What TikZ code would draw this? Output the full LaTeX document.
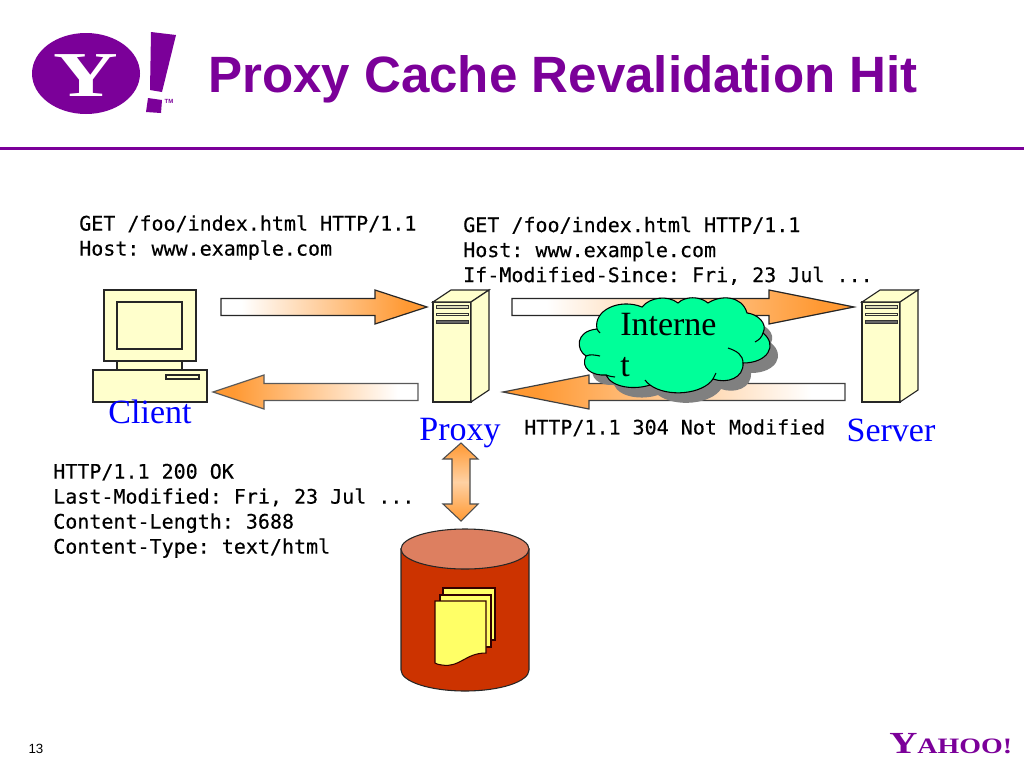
\documentclass[tikz,border=0pt]{standalone}
\usepackage{fontspec}
\setmainfont{Liberation Serif}
\setsansfont{Liberation Sans}
\setmonofont[FakeBold=0.35]{DejaVu Sans Mono}
\usetikzlibrary{arrows.meta,calc}
\definecolor{yahoopurple}{HTML}{7B0099}
\definecolor{machinefill}{HTML}{FFFFCC}
\definecolor{arroworange}{HTML}{FF9933}
\definecolor{cloudgreen}{HTML}{00FF99}
\definecolor{drumred}{HTML}{CC3300}
\definecolor{drumtop}{HTML}{DD7F60}
\definecolor{sheetyellow}{HTML}{FFFF66}
\pgfdeclarehorizontalshading{fadeeast}{100bp}{color(0bp)=(white);color(30bp)=(white);color(70bp)=(arroworange);color(100bp)=(arroworange)}
\pgfdeclarehorizontalshading{fadewest}{100bp}{color(0bp)=(arroworange);color(30bp)=(arroworange);color(70bp)=(white);color(100bp)=(white)}
\tikzset {
  machine/.style={draw=black!85,fill=machinefill,line width=.85pt},
  sheet/.style={draw=black!80!red,fill=sheetyellow,line width=.8pt},
  mono/.style={font=\fontsize{15}{18.75}\selectfont\ttfamily,align=left,anchor=north west,inner sep=0pt},
  hostname/.style={font=\fontsize{25.5}{28}\selectfont,text=blue,inner sep=0pt,anchor=base},
  servertower/.pic={
    \draw[machine] (0,0) rectangle (38,100);
    \draw[machine] (0,0) -- (18,-12) -- (56,-12) -- (38,0) -- cycle;
    \draw[machine] (38,0) -- (56,-12) -- (56,88) -- (38,100) -- cycle;
    \draw[draw=black!80,fill=machinefill!70!gray,line width=.5pt] (3,3) rectangle (35,6);
    \draw[draw=black!80,fill=machinefill,line width=.5pt] (3,11) rectangle (35,13.5);
    \draw[draw=black!80,fill=black!60,line width=.5pt] (3,18) rectangle (35,21);
  },
}
\newcommand{\blockarrow}[4]{
  \coordinate (hb) at ($(#3)+(#4,0)$);
  \draw[shade,line width=.9pt,#1] ($(#2)+(0,-8.5)$) -- ($(hb)+(0,-8.5)$)
    -- ($(hb)+(0,-17)$) -- (#3) -- ($(hb)+(0,17)$) -- ($(hb)+(0,8.5)$)
    -- ($(#2)+(0,8.5)$) -- cycle;
}
\newcommand{\cloudoutline}{
  (597,329) .. controls (593,310) and (620,298) .. (642,307)
  .. controls (650,297) and (668,295) .. (678,303)
  .. controls (685,296) and (700,296) .. (708,303)
  .. controls (720,295) and (742,295) .. (747,313)
  .. controls (757,314) and (768,323) .. (763,333)
  .. controls (778,345) and (768,363) .. (743,363)
  .. controls (744,378) and (727,384) .. (713,379)
  .. controls (703,394) and (668,398) .. (650,385)
  .. controls (635,390) and (612,388) .. (606,375)
  .. controls (592,376) and (580,368) .. (586,356)
  .. controls (576,350) and (575,331) .. (597,329) -- cycle
}
\begin{document}
\begin{tikzpicture}[x=.75pt,y=-.75pt]
  \useasboundingbox (0,0) rectangle (1024,768);

  \fill[yahoopurple] (86,73.5) ellipse[x radius=54,y radius=40.5];
  \node (logoY) at (86,76) [text=white,inner sep=0pt,xscale=1.4,font=\fontsize{48}{50}\selectfont\bfseries]{Y};
  \fill[yahoopurple] (151,32) -- (176,35) -- (162,92) -- (150,90) -- cycle;
  \fill[yahoopurple] (148,98) -- (162,100) -- (161,113) -- (146,112) -- cycle;
  \node (logoTM) at (169,101) [text=yahoopurple,inner sep=0pt,font=\fontsize{4.5}{5}\selectfont\sffamily\bfseries]{TM};
  \node (title) at (208,92) [anchor=base west,inner sep=0pt,text=yahoopurple,font=\fontsize{38.3}{42}\selectfont\sffamily\bfseries]{Proxy Cache Revalidation Hit};
  \draw[yahoopurple,line width=2.25pt] (0,148) -- (1024,148);

  \node (reqClient) at (79,215) [mono]{GET /foo/index.html HTTP/1.1\\Host: www.example.com};
  \node (reqProxy) at (463,216.5) [mono]{GET /foo/index.html HTTP/1.1\\Host: www.example.com\\If-Modified-Since: Fri, 23 Jul ...};
  \node (respClient) at (53,463.5) [mono]{HTTP/1.1 200 OK\\Last-Modified: Fri, 23 Jul ...\\Content-Length: 3688\\Content-Type: text/html};
  \node (respServer) at (524,419) [mono]{HTTP/1.1 304 Not Modified};

  \draw[machine] (104,290) rectangle (196,361);
  \draw[machine] (117,302) rectangle (182,349);
  \draw[machine] (117,361) rectangle (182,370);
  \draw[machine] (93,370) rectangle (207,402);
  \draw[machine] (166,375) rectangle (199,379);
  \node (client) at (150,423) [hostname]{Client};

  \pic at (433,302) {servertower};
  \node (proxy) at (460,440) [hostname]{Proxy};
  \pic at (862,302) {servertower};
  \node (server) at (891,441) [hostname]{Server};

  \coordinate (clientOut) at (221,307);
  \coordinate (proxyIn) at (427,307);
  \coordinate (proxyOut) at (418,392);
  \coordinate (clientIn) at (213,392);
  \coordinate (proxyUp) at (512,307);
  \coordinate (serverIn) at (854,307);
  \coordinate (serverOut) at (845,392);
  \coordinate (proxyBack) at (503,392);

  \blockarrow{shading=fadeeast,draw=black!85}{clientOut}{proxyIn}{-52}
  \blockarrow{shading=fadeeast,draw=black!85}{proxyUp}{serverIn}{-85}
  \blockarrow{shading=fadewest,draw=black!65}{proxyOut}{clientIn}{51}
  \blockarrow{shading=fadewest,draw=black!75}{serverOut}{proxyBack}{86}

  \fill[black!50,shift={(8,10)}] \cloudoutline;
  \draw[draw=black,fill=cloudgreen,line width=.8pt] \cloudoutline;
  \draw[line width=.8pt] (586,356) .. controls (590,354) and (595,355) .. (600,356);
  \draw[line width=.8pt] (597,329) .. controls (598,331) and (599,332) .. (600,333);
  \draw[line width=.8pt] (743,363) .. controls (743,355) and (737,351) .. (728,348);
  \draw[line width=.8pt] (763,333) .. controls (762,337) and (759,340) .. (755,342);
  \draw[line width=.8pt] (713,379) .. controls (714,377) and (715,375) .. (716,373);
  \draw[line width=.8pt] (650,385) .. controls (648,383) and (646,382) .. (645,380);
  \draw[line width=.8pt] (606,375) .. controls (609,376) and (612,377) .. (615,377);
  \node (internetLabel) at (620,313) [anchor=north west,inner sep=0pt,align=left,font=\fontsize{25.5}{31}\selectfont]{Interne\\t};

  \draw[draw=black!70,line width=.8pt,top color=arroworange,bottom color=arroworange,middle color=arroworange!45!white]
    (461,443) -- (478,459) -- (470,459) -- (470,504) -- (478,504) -- (461,521)
    -- (443,504) -- (452,504) -- (452,459) -- (443,459) -- cycle;

  \draw[draw=black!85,fill=drumred,line width=.8pt] (401,549) -- (401,670)
    arc[start angle=180,end angle=0,x radius=64,y radius=21] -- (529,549) -- cycle;
  \draw[draw=black!85,fill=drumtop,line width=.8pt] (465,549) ellipse[x radius=64,y radius=20];
  \draw[sheet] (443,588) rectangle (495,640);
  \draw[sheet] (440,595) rectangle (491,647);
  \draw[sheet] (435,601) -- (486,601) -- (486,653) .. controls (465,653) and (460,668) .. (442,665) .. controls (439,665) and (437,664) .. (435,663) -- cycle;

  \node (page) at (36,749) [inner sep=0pt,font=\fontsize{10}{11}\selectfont\sffamily]{13};
  \node (wordmark) at (889,753) [anchor=base west,inner sep=0pt,xscale=1.27,text=yahoopurple,font=\bfseries\fontsize{23}{24}\selectfont]{Y\fontsize{16.5}{18}\selectfont AHOO!};
\end{tikzpicture}
\end{document}
